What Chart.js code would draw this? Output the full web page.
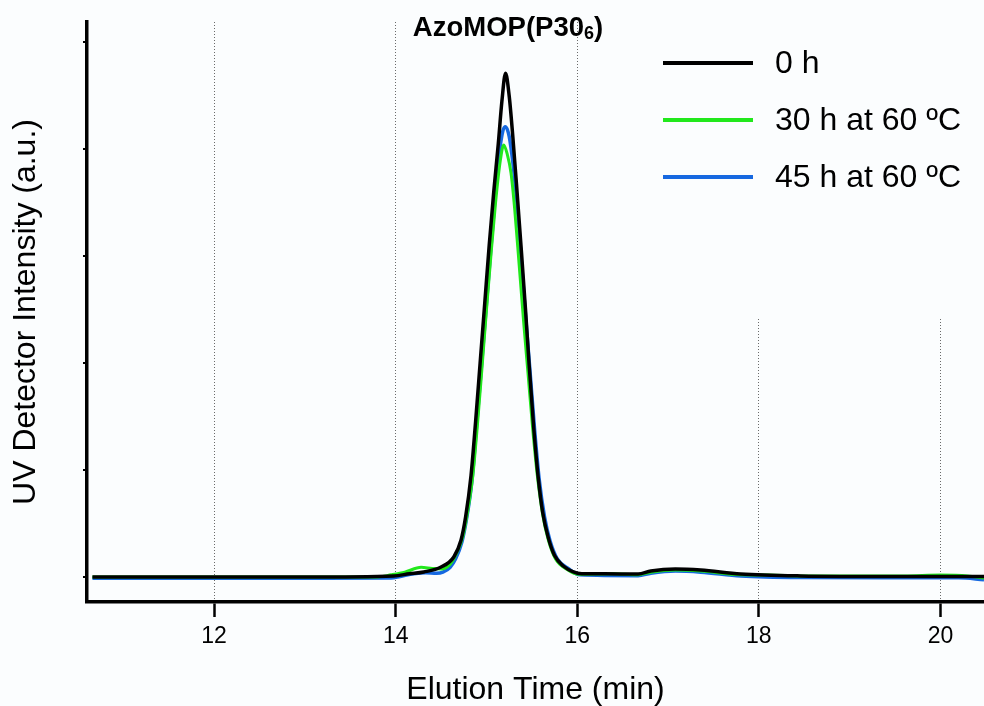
<!DOCTYPE html>
<html>
<head>
<meta charset="utf-8">
<script src="https://cdn.jsdelivr.net/npm/chart.js@4.4.1/dist/chart.umd.min.js"></script>
<style>
  html, body { margin: 0; padding: 0; background: #fbfdfe; }
  #wrap { width: 984px; height: 706px; }
</style>
</head>
<body>
<div id="wrap"><canvas id="gpcChart" width="984" height="706"></canvas></div>
<script>
// GPC traces of AzoMOP(P30_6) after heating

const seriesLabels = ["0 h", "30 h at 60 \u00baC", "45 h at 60 \u00baC"];
const seriesColors = ["#000000", "#22e81c", "#1668e0"];

const xTickValues = [12, 14, 16, 18, 20];
const yTickValues = [0, 1, 2, 3, 4, 5];

// 0 h
const time0h = [10.66, 13.0, 13.98, 14.15, 14.31, 14.5, 14.64, 14.72, 14.77, 14.83, 14.88, 14.93, 14.98, 15.03, 15.08, 15.13, 15.17, 15.21, 15.25, 15.29, 15.33, 15.38, 15.43, 15.47, 15.52, 15.57, 15.62, 15.68, 15.75, 15.85, 15.95, 16.05, 16.3, 16.67, 16.81, 17.08, 17.36, 17.80, 18.46, 19.5, 20.48];
const intensity0h = [0, 0, 0.01, 0.03, 0.047, 0.093, 0.187, 0.346, 0.56, 0.95, 1.45, 2.0, 2.55, 3.1, 3.6, 4.05, 4.45, 4.71, 4.5, 4.12, 3.68, 3.1, 2.5, 1.98, 1.4, 0.93, 0.6, 0.37, 0.2, 0.1, 0.05, 0.03, 0.03, 0.028, 0.056, 0.075, 0.065, 0.028, 0.01, 0.005, 0.005];

// 30 h at 60 C
const time30h = [10.66, 13.0, 13.8, 13.95, 14.1, 14.28, 14.4, 14.5, 14.6, 14.67, 14.74, 14.79, 14.85, 14.9, 14.95, 15.0, 15.05, 15.1, 15.15, 15.19, 15.23, 15.27, 15.31, 15.36, 15.41, 15.46, 15.51, 15.56, 15.62, 15.68, 15.76, 15.88, 16.02, 16.4, 16.67, 16.81, 17.08, 17.36, 17.8, 18.1, 18.5, 19.6, 20.0, 20.3, 20.48];
const intensity30h = [0, 0, 0, 0.02, 0.045, 0.09, 0.08, 0.075, 0.12, 0.22, 0.38, 0.6, 0.95, 1.42, 1.95, 2.5, 3.02, 3.5, 3.88, 4.04, 3.95, 3.78, 3.45, 2.92, 2.38, 1.88, 1.38, 0.95, 0.58, 0.35, 0.17, 0.075, 0.025, 0.03, 0.02, 0.045, 0.065, 0.055, 0.02, 0.018, 0.01, 0.01, 0.018, 0.01, -0.01];

// 45 h at 60 C
const time45h = [10.66, 13.0, 13.95, 14.05, 14.2, 14.33, 14.45, 14.52, 14.6, 14.66, 14.73, 14.78, 14.84, 14.89, 14.94, 14.99, 15.04, 15.09, 15.14, 15.18, 15.21, 15.25, 15.29, 15.33, 15.38, 15.43, 15.48, 15.53, 15.58, 15.64, 15.70, 15.78, 15.90, 16.03, 16.67, 16.81, 17.08, 17.36, 17.8, 18.46, 19.5, 20.2, 20.48];
const intensity45h = [-0.012, -0.012, -0.01, 0.005, 0.03, 0.04, 0.035, 0.045, 0.09, 0.17, 0.33, 0.54, 0.9, 1.4, 1.92, 2.45, 2.98, 3.5, 3.95, 4.17, 4.21, 4.12, 3.88, 3.55, 3.0, 2.45, 1.92, 1.38, 0.92, 0.56, 0.34, 0.17, 0.08, 0.02, 0.012, 0.035, 0.055, 0.045, 0.01, -0.005, -0.008, -0.008, -0.025];

const FONT = "'Liberation Sans', Arial, Helvetica, sans-serif";
const BG = "#fbfdfe";

function toPoints(xs, ys) {
  return xs.map((x, i) => ({ x: x, y: ys[i] }));
}

function makeDataset(i, xs, ys, width) {
  return {
    label: seriesLabels[i],
    data: toPoints(xs, ys),
    borderColor: seriesColors[i],
    borderWidth: width,
    pointRadius: 0,
    fill: false,
    cubicInterpolationMode: "monotone",
  };
}

// title + legend drawn inside the plot area; legend gets a plain background box
const overlayPlugin = {
  id: "overlay",
  beforeDatasetsDraw(chart) {
    const c = chart.ctx;
    const area = chart.chartArea;
    c.save();
    c.fillStyle = BG;
    c.fillRect(620, area.top - 2, area.right - 620, 318 - area.top + 2);
    c.restore();
  },
  afterDatasetsDraw(chart) {
    const c = chart.ctx;
    c.save();
    // title with subscript
    c.fillStyle = "#000";
    c.textBaseline = "alphabetic";
    const main = "AzoMOP(P30";
    c.font = "bold 27.5px " + FONT;
    const w1 = c.measureText(main).width;
    const w3 = c.measureText(")").width;
    c.font = "bold 18px " + FONT;
    const w2 = c.measureText("6").width;
    let tx = 508 - (w1 + w2 + w3) / 2;
    c.font = "bold 27.5px " + FONT;
    c.fillText(main, tx, 36);
    tx += w1;
    c.font = "bold 18px " + FONT;
    c.fillText("6", tx, 39);
    tx += w2;
    c.font = "bold 27.5px " + FONT;
    c.fillText(")", tx, 36);

    // legend
    const rows = [63, 120, 177];
    chart.data.datasets.forEach((ds, i) => {
      c.strokeStyle = ds.borderColor;
      c.lineWidth = 4;
      c.beginPath();
      c.moveTo(663, rows[i]);
      c.lineTo(753, rows[i]);
      c.stroke();
      c.fillStyle = "#000";
      c.font = "32px " + FONT;
      c.textBaseline = "middle";
      c.fillText(ds.label, 775, rows[i] + 1);
    });
    c.restore();
  },
};

const bgPlugin = {
  id: "bg",
  beforeDraw(chart) {
    const c = chart.ctx;
    c.save();
    c.fillStyle = BG;
    c.fillRect(0, 0, chart.width, chart.height);
    c.restore();
  },
};

const ctx = document.getElementById("gpcChart").getContext("2d");
const gpcChart = new Chart(ctx, {
  type: "line",
  data: {
    datasets: [
      makeDataset(0, time0h, intensity0h, 3.5),
      makeDataset(1, time30h, intensity30h, 3),
      makeDataset(2, time45h, intensity45h, 3.5),
    ],
  },
  options: {
    responsive: false,
    animation: false,
    layout: { padding: { top: 22, right: 0, left: 0, bottom: 0 } },
    plugins: {
      legend: { display: false },
      title: { display: false },
      tooltip: { enabled: false },
    },
    scales: {
      x: {
        type: "linear",
        min: 10.6,
        max: 20.48,
        afterBuildTicks: (scale) => {
          scale.ticks = xTickValues.map((v) => ({ value: v }));
        },
        afterFit: (scale) => {
          scale.height = 104;
        },
        grid: {
          color: "#6a6a6a",
          lineWidth: 1,
          tickColor: "#000",
          tickWidth: 2.5,
          tickLength: 15,
          tickBorderDash: [],
        },
        border: { display: true, color: "#000", width: 3.5, dash: [1, 2] },
        ticks: {
          color: "#000",
          padding: 6,
          maxRotation: 0,
          font: { family: FONT, size: 23 },
          callback: (v) => v,
        },
        title: {
          display: true,
          text: "Elution Time (min)",
          color: "#000",
          font: { family: FONT, size: 32, lineHeight: 1 },
          padding: { top: 0, bottom: 0 },
        },
      },
      y: {
        type: "linear",
        min: -0.234,
        max: 5.19,
        afterBuildTicks: (scale) => {
          scale.ticks = yTickValues.map((v) => ({ value: v }));
        },
        afterFit: (scale) => {
          scale.width = 87;
        },
        grid: {
          drawOnChartArea: false,
          color: "#000",
          lineWidth: 0,
          tickColor: "#000",
          tickWidth: 2,
          tickLength: 4,
        },
        border: { display: true, color: "#000", width: 3.5 },
        ticks: { display: false },
        title: {
          display: true,
          text: "UV Detector Intensity (a.u.)",
          color: "#000",
          font: { family: FONT, size: 32, lineHeight: 1.2 },
          padding: { top: 7, bottom: 0 },
        },
      },
    },
  },
  plugins: [bgPlugin, overlayPlugin],
});
</script>
</body>
</html>
